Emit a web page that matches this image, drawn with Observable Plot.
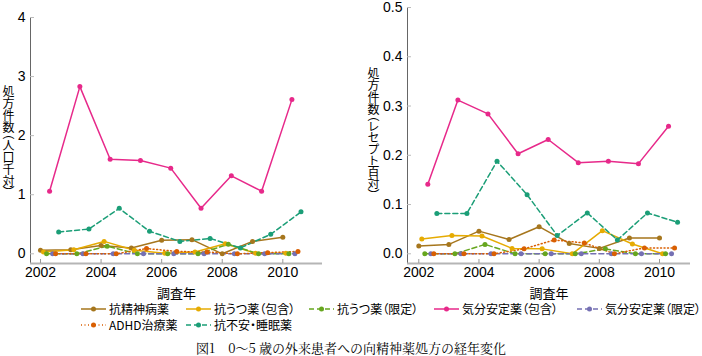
<!DOCTYPE html>
<html><head><meta charset="utf-8">
<script src="https://cdn.jsdelivr.net/npm/d3@7"></script>
<script src="https://cdn.jsdelivr.net/npm/@observablehq/plot@0.6"></script>
<style>
body{margin:0;background:#fff}
#wrap{position:relative;width:702px;height:356px;overflow:hidden;font-family:"Noto Sans CJK JP","Liberation Sans",sans-serif;color:#000}
.panel{position:absolute;top:0}
.ylab{position:absolute;writing-mode:vertical-rl;font-size:12px;line-height:14px;font-feature-settings:"vpal";white-space:nowrap}
#legend{position:absolute;left:81px;top:301px;display:grid;grid-template-columns:105px 123px 125px 143px auto;font-size:12px;line-height:16px}
.item{display:flex;align-items:center;white-space:nowrap;font-feature-settings:"palt"}
.item svg{margin-right:3px;flex:none}
#caption{position:absolute;left:0;width:702px;top:341px;text-align:center;font-family:"Noto Serif CJK JP","Liberation Serif",serif;font-size:13px;line-height:14px}
svg [aria-label="x-axis label"] text{font-family:"Noto Sans CJK JP",sans-serif;font-size:13px}
</style></head>
<body><div id="wrap"></div>
<script>
const years = [2002, 2003, 2004, 2005, 2006, 2007, 2008, 2009, 2010];
const seriesNames = ["抗精神病薬", "抗うつ薬（包含）", "抗うつ薬（限定）", "気分安定薬（包含）", "気分安定薬（限定）", "ADHD治療薬", "抗不安・睡眠薬"];
const seriesColors = ["#a6761d", "#e6ab02", "#66a61e", "#e7298a", "#7570b3", "#d95f02", "#1b9e77"];
const seriesDash = [null, null, "5,3", null, "5,3", "1,2.5", "5,3"];

// Left panel: prescriptions per 1,000 population
const popAntipsychotic = [0.06, 0.07, 0.14, 0.10, 0.23, 0.24, 0.00, 0.21, 0.28];
const popAntidepIncl   = [0.03, 0.07, 0.21, 0.06, 0.01, 0.03, 0.17, 0.01, 0.01];
const popAntidepLtd    = [0.00, 0.00, 0.13, 0.00, 0.00, 0.00, 0.16, 0.00, 0.00];
const popMoodIncl      = [1.06, 2.83, 1.60, 1.58, 1.45, 0.77, 1.32, 1.06, 2.61];
const popMoodLtd       = [0.00, 0.00, 0.00, 0.00, 0.00, 0.00, 0.00, 0.00, 0.00];
const popADHD          = [0.00, 0.00, 0.00, 0.09, 0.04, 0.03, 0.00, 0.02, 0.04];
const popAnxiolytic    = [0.37, 0.42, 0.77, 0.38, 0.21, 0.26, 0.10, 0.33, 0.71];

// Right panel: prescriptions per 100 receipts
const rxAntipsychotic = [0.016, 0.019, 0.046, 0.029, 0.055, 0.021, 0.011, 0.032, 0.032];
const rxAntidepIncl   = [0.030, 0.037, 0.036, 0.011, 0.010, 0.000, 0.047, 0.020, 0.000];
const rxAntidepLtd    = [0.000, 0.000, 0.019, 0.000, 0.000, 0.000, 0.010, 0.000, 0.000];
const rxMoodIncl      = [0.141, 0.312, 0.284, 0.203, 0.232, 0.185, 0.188, 0.183, 0.259];
const rxMoodLtd       = [0.000, 0.000, 0.000, 0.000, 0.000, 0.000, 0.000, 0.000, 0.000];
const rxADHD          = [0.000, 0.000, 0.000, 0.010, 0.028, 0.022, 0.000, 0.012, 0.012];
const rxAnxiolytic    = [0.082, 0.082, 0.188, 0.120, 0.037, 0.083, 0.028, 0.083, 0.064];

const xTicks = [2002, 2004, 2006, 2008, 2010];
const leftYTicks = [0, 1, 2, 3, 4];
const rightYTicks = [0, 0.1, 0.2, 0.3, 0.4, 0.5];

function panel(values, o) {
  const data = [];
  values.forEach((vals, i) => vals.forEach((v, j) => data.push({s: i, x: years[j] + i * 0.1, y: v})));
  const marks = [
    Plot.ruleX([o.xDomain[0]], {stroke: "#666", strokeWidth: 1}),
    Plot.ruleY([o.yDomain[0]], {stroke: "#b5b5b5", strokeWidth: 2}),
    Plot.axisY({ticks: o.yTicks, tickSize: -4, stroke: "#bbb", fill: "none", label: null}),
    Plot.axisY({ticks: o.yTicks, tickSize: 0, tickPadding: 5, tickFormat: o.yFormat, label: null}),
    Plot.axisX({ticks: xTicks, tickSize: -4, stroke: "#999", fill: "none", label: null}),
    Plot.axisX({ticks: xTicks, tickSize: 0, tickPadding: 4, tickFormat: "d", label: "調査年", labelAnchor: "center", labelArrow: "none", labelOffset: 34})
  ];
  values.forEach((vals, i) => {
    const d = data.filter(r => r.s === i);
    marks.push(Plot.line(d, {x: "x", y: "y", stroke: seriesColors[i], strokeWidth: 1.5, strokeDasharray: seriesDash[i]}));
  });
  values.forEach((vals, i) => {
    const d = data.filter(r => r.s === i);
    marks.push(Plot.dot(d, {x: "x", y: "y", r: 2.5, fill: seriesColors[i], stroke: "none"}));
  });
  return Plot.plot({
    width: 351, height: 300,
    marginLeft: o.ml, marginRight: o.mr, marginTop: o.mt, marginBottom: 37,
    x: {domain: o.xDomain},
    y: {domain: o.yDomain},
    style: {fontFamily: "'Liberation Sans', Arial, sans-serif", fontSize: "14px", color: "#000", background: "transparent", overflow: "visible"},
    marks
  });
}

const wrap = document.getElementById("wrap");
const left = panel([popAntipsychotic, popAntidepIncl, popAntidepLtd, popMoodIncl, popMoodLtd, popADHD, popAnxiolytic],
  {xDomain: [2001.67, 2011.31], yDomain: [-0.164, 4], yTicks: leftYTicks, yFormat: "d", ml: 30, mr: 29, mt: 17});
left.classList.add("panel"); left.style.left = "0px";
wrap.appendChild(left);
const right = panel([rxAntipsychotic, rxAntidepIncl, rxAntidepLtd, rxMoodIncl, rxMoodLtd, rxADHD, rxAnxiolytic],
  {xDomain: [2001.625, 2011.03], yDomain: [-0.0197, 0.5], yTicks: rightYTicks, yFormat: ".1f", ml: 56, mr: 12, mt: 7});
right.classList.add("panel"); right.style.left = "351px";
wrap.appendChild(right);

function ylab(text, x, y) {
  const d = document.createElement("div");
  d.className = "ylab"; d.textContent = text;
  d.style.left = x + "px"; d.style.top = y + "px";
  wrap.appendChild(d);
}
ylab("処方件数（人口千対）", 1, 85);
ylab("処方件数（レセプト百対）", 366, 67);

const legend = document.createElement("div");
legend.id = "legend";
seriesNames.forEach((name, i) => {
  const it = document.createElement("div");
  it.className = "item";
  const ns = "http://www.w3.org/2000/svg";
  const s = document.createElementNS(ns, "svg");
  s.setAttribute("width", 25); s.setAttribute("height", 10);
  const ln = document.createElementNS(ns, "line");
  ln.setAttribute("x1", 0); ln.setAttribute("x2", 25); ln.setAttribute("y1", 5); ln.setAttribute("y2", 5);
  ln.setAttribute("stroke", seriesColors[i]); ln.setAttribute("stroke-width", 1.5);
  if (seriesDash[i]) ln.setAttribute("stroke-dasharray", seriesDash[i]);
  const c = document.createElementNS(ns, "circle");
  c.setAttribute("cx", 12.5); c.setAttribute("cy", 5); c.setAttribute("r", 2.5); c.setAttribute("fill", seriesColors[i]);
  s.appendChild(ln); s.appendChild(c);
  const t = document.createElement("span"); t.textContent = name;
  it.appendChild(s); it.appendChild(t);
  legend.appendChild(it);
});
wrap.appendChild(legend);

const cap = document.createElement("div");
cap.id = "caption";
cap.textContent = "図1　0〜5 歳の外来患者への向精神薬処方の経年変化";
wrap.appendChild(cap);
</script>
</body></html>
